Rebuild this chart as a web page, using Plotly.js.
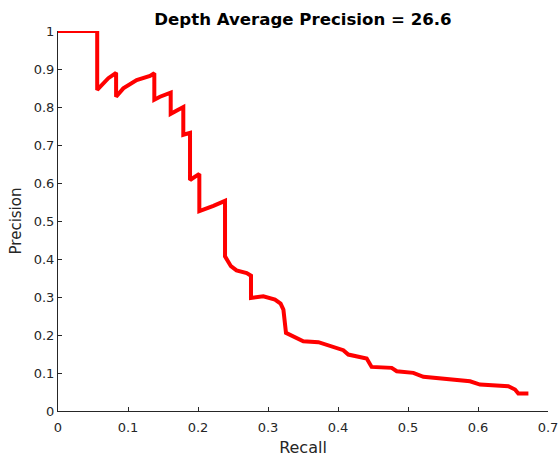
<!DOCTYPE html>
<html>
<head>
<meta charset="utf-8">
<script src="https://cdn.plot.ly/plotly-3.0.1.min.js"></script>
<style>html,body{margin:0;padding:0;background:#fff;}#chart{width:558px;height:457px;}</style>
</head>
<body>
<div id="chart"></div>
<script>
// Precision-recall curve
const recall = [0, 0.056, 0.056, 0.0624, 0.0719, 0.083, 0.083, 0.0933, 0.1124, 0.1314, 0.1376, 0.1376,
  0.1457, 0.161, 0.161, 0.179, 0.179, 0.1886, 0.1886,
  0.2019, 0.2019, 0.222, 0.2386, 0.2386, 0.247, 0.255, 0.2696, 0.2757, 0.2757, 0.2933, 0.310, 0.318, 0.322,
  0.3257, 0.336, 0.3504, 0.372, 0.3886, 0.4076, 0.4147, 0.441, 0.448, 0.4767, 0.4839, 0.5076, 0.522,
  0.5553, 0.5886, 0.6029, 0.6433, 0.6529, 0.6576, 0.672];
const precision = [1, 1, 0.845, 0.858, 0.8757, 0.890, 0.827, 0.849, 0.871, 0.882, 0.889, 0.819,
  0.827, 0.838, 0.782, 0.800, 0.727, 0.732, 0.608,
  0.624, 0.526, 0.540, 0.553, 0.407, 0.381, 0.370, 0.363, 0.356, 0.2975, 0.3017, 0.293, 0.2825, 0.2667,
  0.2055, 0.1966, 0.1834, 0.181, 0.170, 0.160, 0.1485, 0.138, 0.116, 0.1135, 0.1046, 0.1004, 0.0899,
  0.0828, 0.0783, 0.0696, 0.0652, 0.0565, 0.046, 0.046];
const xTicks = [0, 0.1, 0.2, 0.3, 0.4, 0.5, 0.6, 0.7];
const xTickText = ["0", "0.1", "0.2", "0.3", "0.4", "0.5", "0.6", "0.7"];
const yTicks = [0, 0.1, 0.2, 0.3, 0.4, 0.5, 0.6, 0.7, 0.8, 0.9, 1];
const yTickText = ["0", "0.1", "0.2", "0.3", "0.4", "0.5", "0.6", "0.7", "0.8", "0.9", "1"];
const titleText = "Depth Average Precision = 26.6";

const axisColor = "#262626";
const trace = {
  x: recall, y: precision, type: "scatter", mode: "lines",
  line: {color: "#ff0000", width: 4}, hoverinfo: "none"
};
const layout = {
  width: 558, height: 457,
  margin: {l: 58, r: 10, t: 31, b: 46},
  paper_bgcolor: "#ffffff", plot_bgcolor: "#ffffff",
  showlegend: false,
  font: {family: "DejaVu Sans", color: axisColor, size: 13},
  title: {text: "<b>" + titleText + "</b>", font: {family: "DejaVu Sans", size: 16.6, color: "#000000"},
    x: 0.5, xref: "paper", xanchor: "center", y: 1 - 19/457, yref: "container", yanchor: "middle"},
  xaxis: {
    range: [0, 0.7], tickvals: xTicks, ticktext: xTickText,
    ticks: "inside", ticklen: 4, tickwidth: 1, tickcolor: axisColor,
    showline: true, linecolor: axisColor, linewidth: 1, showgrid: false, zeroline: false,
    tickfont: {size: 13, color: axisColor}, ticklabelstandoff: 4, ticklabeloverflow: "allow",
    title: {text: "Recall", font: {size: 16, color: axisColor}, standoff: 8}
  },
  yaxis: {
    range: [0, 1], tickvals: yTicks, ticktext: yTickText,
    ticks: "inside", ticklen: 4, tickwidth: 1, tickcolor: axisColor,
    showline: true, linecolor: axisColor, linewidth: 1, showgrid: false, zeroline: false,
    tickfont: {size: 13, color: axisColor},
    title: {text: "Precision", font: {size: 15, color: axisColor}, standoff: 8}
  }
};
Plotly.newPlot("chart", [trace], layout, {staticPlot: true, displayModeBar: false});
</script>
</body>
</html>
